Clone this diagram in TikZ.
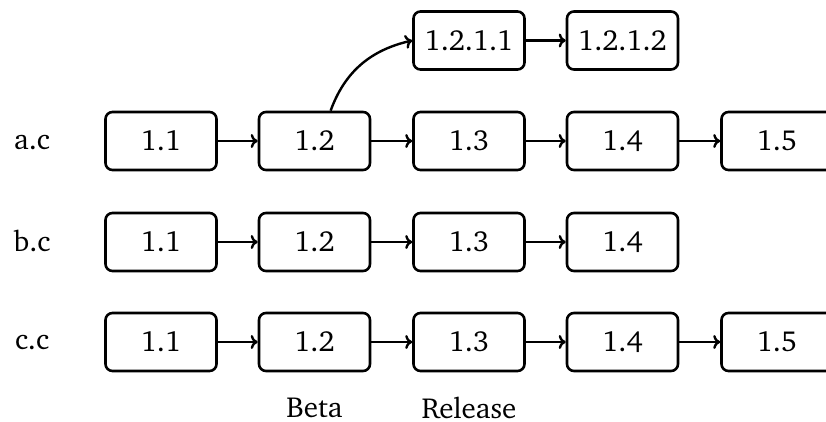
\documentclass[tikz,border=0pt]{standalone}
\usepackage[T1]{fontenc}
\usepackage{charter}
\usetikzlibrary{arrows.meta}
\begin{document}
\begin{tikzpicture}[x=1pt,y=-1pt,
  ver/.style={draw,line width=2.6pt,rounded corners=7pt,minimum width=111pt,minimum height=58pt,inner sep=0pt,font=\fontsize{29}{34}\selectfont},
  lbl/.style={font=\fontsize{29}{34}\selectfont,inner sep=0pt},
  conn/.style={line width=2.4pt,-{To[length=7pt,width=14pt]}}]
\useasboundingbox (0,0) rectangle (826,422);
% labels
\node[lbl] (la) at (32,142.5) {a.c};
\node[lbl] (lb) at (32,241) {b.c};
\node[lbl] (lc) at (32,343) {c.c};
% row a
\node[ver] (a1) at (161,141) {1.1};
\node[ver] (a2) at (314.5,141) {1.2};
\node[ver] (a3) at (469,141) {1.3};
\node[ver] (a4) at (622.5,141) {1.4};
\node[ver] (a5) at (777,141) {1.5};
% top row
\node[ver] (t1) at (469,40.5) {1.2.1.1};
\node[ver] (t2) at (622.5,40.5) {1.2.1.2};
% row b
\node[ver] (b1) at (161,242) {1.1};
\node[ver] (b2) at (314.5,242) {1.2};
\node[ver] (b3) at (469,242) {1.3};
\node[ver] (b4) at (622.5,242) {1.4};
% row c
\node[ver] (c1) at (161,342) {1.1};
\node[ver] (c2) at (314.5,342) {1.2};
\node[ver] (c3) at (469,342) {1.3};
\node[ver] (c4) at (622.5,342) {1.4};
\node[ver] (c5) at (777,342) {1.5};
% bottom labels
\node[lbl] (beta) at (314.5,407.5) {Beta};
\node[lbl] (rel) at (469,407.5) {Release};
% connectors
\draw[conn] (a1) -- (a2);
\draw[conn] (a2) -- (a3);
\draw[conn] (a3) -- (a4);
\draw[conn] (a4) -- (a5);
\draw[conn] (t1) -- (t2);
\draw[conn] (a2.62) to[out=70,in=193] (t1.west);
\draw[conn] (b1) -- (b2);
\draw[conn] (b2) -- (b3);
\draw[conn] (b3) -- (b4);
\draw[conn] (c1) -- (c2);
\draw[conn] (c2) -- (c3);
\draw[conn] (c3) -- (c4);
\draw[conn] (c4) -- (c5);
\end{tikzpicture}
\end{document}
